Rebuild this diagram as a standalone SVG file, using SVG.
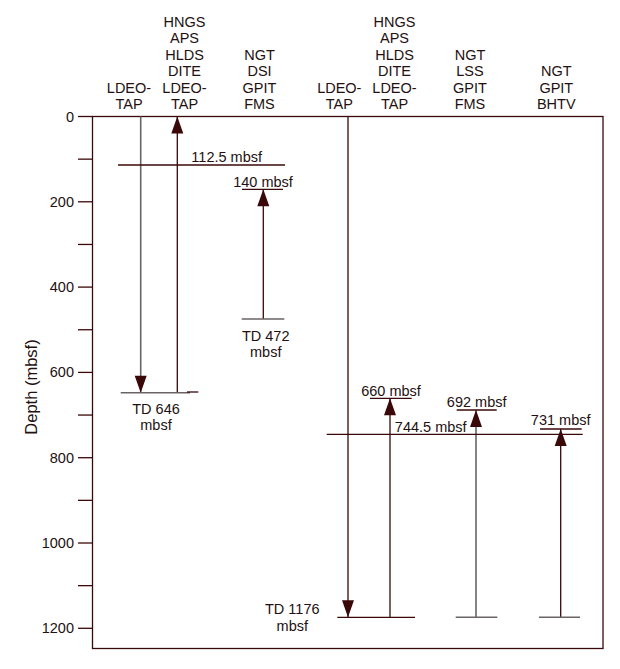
<svg xmlns="http://www.w3.org/2000/svg" width="620" height="669" viewBox="0 0 620 669">
<style>
text{font-family:"Liberation Sans",Arial,sans-serif;font-size:14.5px;fill:#241010;text-anchor:middle}
.ax{text-anchor:end}
.dk{stroke:#3a0808;stroke-width:1.3;fill:none}
.gr{stroke:#6a6464;stroke-width:1.6;fill:none}
.ar{marker-end:url(#ah)}
</style>
<defs>
<marker id="ah" markerUnits="userSpaceOnUse" orient="auto" refX="0" refY="0" markerWidth="1" markerHeight="1" overflow="visible">
<path d="M0,0 L-17,-6 L-17,6 Z" fill="#3a0808"/>
</marker>
</defs>
<rect width="620" height="669" fill="#fff"/>
<g id="frame">
<rect x="92.5" y="116.5" width="510.5" height="532" class="dk"/>
<g class="dk">
<line x1="78" y1="116.5" x2="92.5" y2="116.5"/>
<line x1="78" y1="159.15" x2="92.5" y2="159.15"/>
<line x1="78" y1="201.8" x2="92.5" y2="201.8"/>
<line x1="78" y1="244.45" x2="92.5" y2="244.45"/>
<line x1="78" y1="287.1" x2="92.5" y2="287.1"/>
<line x1="78" y1="329.75" x2="92.5" y2="329.75"/>
<line x1="78" y1="372.4" x2="92.5" y2="372.4"/>
<line x1="78" y1="415.05" x2="92.5" y2="415.05"/>
<line x1="78" y1="457.7" x2="92.5" y2="457.7"/>
<line x1="78" y1="500.35" x2="92.5" y2="500.35"/>
<line x1="78" y1="543" x2="92.5" y2="543"/>
<line x1="78" y1="585.65" x2="92.5" y2="585.65"/>
<line x1="78" y1="628.3" x2="92.5" y2="628.3"/>
</g>
<text class="ax" x="74" y="121.5">0</text>
<text class="ax" x="74" y="206.8">200</text>
<text class="ax" x="74" y="292.1">400</text>
<text class="ax" x="74" y="377.4">600</text>
<text class="ax" x="74" y="462.7">800</text>
<text class="ax" x="74" y="548">1000</text>
<text class="ax" x="74" y="633.3">1200</text>
<text x="0" y="0" style="font-size:16.5px" transform="translate(37,387) rotate(-90)">Depth (mbsf)</text>
</g>
<g id="headers">
<text x="129" y="93.3">LDEO-</text><text x="129" y="109.3">TAP</text>
<text x="184.5" y="26.7">HNGS</text><text x="184.5" y="43.2">APS</text><text x="184.5" y="59.7">HLDS</text><text x="184.5" y="76.2">DITE</text><text x="184.5" y="93.3">LDEO-</text><text x="184.5" y="109.3">TAP</text>
<text x="259.5" y="60">NGT</text><text x="259.5" y="76.2">DSI</text><text x="259.5" y="93.3">GPIT</text><text x="259.5" y="109.3">FMS</text>
<text x="339.3" y="93.3">LDEO-</text><text x="339.3" y="109.3">TAP</text>
<text x="394.5" y="26.7">HNGS</text><text x="394.5" y="43.2">APS</text><text x="394.5" y="59.7">HLDS</text><text x="394.5" y="76.2">DITE</text><text x="394.5" y="93.3">LDEO-</text><text x="394.5" y="109.3">TAP</text>
<text x="470" y="60">NGT</text><text x="470" y="76.2">LSS</text><text x="470" y="93.3">GPIT</text><text x="470" y="109.3">FMS</text>
<text x="556.3" y="76.2">NGT</text><text x="556.3" y="93.3">GPIT</text><text x="556.3" y="109.3">BHTV</text>
</g>
<g id="connectors">
<line class="gr ar" x1="140.7" y1="116.5" x2="140.7" y2="392.7"/>
<line class="dk ar" x1="177.3" y1="392.7" x2="177.3" y2="116.5"/>
<line class="dk" x1="118" y1="165" x2="285" y2="165"/>
<line class="dk" x1="242" y1="189.3" x2="283" y2="189.3"/>
<line class="dk ar" x1="263.3" y1="319" x2="263.3" y2="189.3"/>
<line class="gr" x1="241.7" y1="319" x2="284.3" y2="319"/>
<line class="gr" x1="120.7" y1="392.7" x2="190" y2="392.7"/>
<line class="dk" x1="187" y1="392" x2="198.3" y2="392"/>
<line class="dk ar" x1="348" y1="116.5" x2="348" y2="617.3"/>
<line class="dk ar" x1="390" y1="617.3" x2="390" y2="398.3"/>
<line class="gr ar" x1="476" y1="617.3" x2="476" y2="410"/>
<line class="dk ar" x1="560.7" y1="617.3" x2="560.7" y2="429"/>
<line class="dk" x1="370" y1="398.3" x2="411.7" y2="398.3"/>
<line class="dk" x1="456.7" y1="410" x2="496.7" y2="410"/>
<line class="dk" x1="540" y1="429" x2="581.7" y2="429"/>
<line class="dk" x1="326.7" y1="434.3" x2="582.7" y2="434.3"/>
<line class="dk" x1="337.3" y1="617.3" x2="415" y2="617.3"/>
<line class="gr" x1="455.7" y1="617.3" x2="497.3" y2="617.3"/>
<line class="gr" x1="539" y1="617.3" x2="580" y2="617.3"/>
</g>
<g id="labels">
<text x="226.7" y="162">112.5 mbsf</text>
<text x="263" y="186.5">140 mbsf</text>
<text x="265.7" y="340.5">TD 472</text><text x="265.7" y="356.5">mbsf</text>
<text x="156" y="414">TD 646</text><text x="156" y="430">mbsf</text>
<text x="292.3" y="614.3">TD 1176</text><text x="292.3" y="631">mbsf</text>
<text x="391" y="395.7">660 mbsf</text>
<text x="476.7" y="406.7">692 mbsf</text>
<text x="560.7" y="425">731 mbsf</text>
<text x="430.7" y="432.3">744.5 mbsf</text>
</g>
</svg>
